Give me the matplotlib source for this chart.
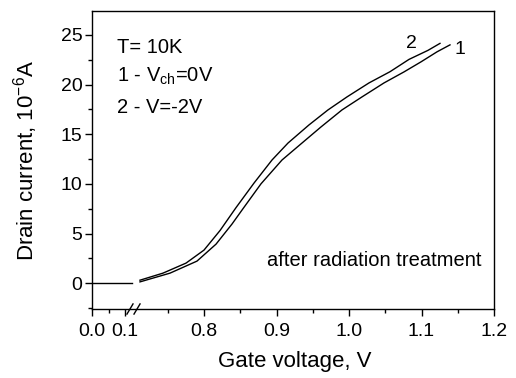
import matplotlib
matplotlib.use("Agg")
import matplotlib.pyplot as plt
import numpy as np
from matplotlib.ticker import FixedLocator, FormatStrFormatter

plt.rcParams['font.family'] = ['Liberation Sans', 'DejaVu Sans']
plt.rcParams['mathtext.default'] = 'regular'

# Broken x axis: 0..0.12 drawn wide, 0.12..0.71 squeezed, 0.71..1.2 normal
x_break_pts = [0.0, 0.12, 0.71, 1.2]
u_break_pts = [0.0, 39.6, 46.75, 402.0]

def fwd(x):
    return np.interp(x, x_break_pts, u_break_pts)

def inv(u):
    return np.interp(u, u_break_pts, x_break_pts)

# Data (gate voltage in V, drain current in 1e-6 A)
v_off = [0.0, 0.12]
i_off = [0.0, 0.0]

v_1 = [0.7117, 0.7531, 0.7903, 0.8166, 0.8386, 0.8538, 0.8786, 0.9076, 0.9352,
       0.9614, 0.9903, 1.0179, 1.0483, 1.0759, 1.0993, 1.1214, 1.1393]
i_1 = [0.13, 1.01, 2.22, 3.93, 5.95, 7.50, 10.00, 12.40, 14.11,
       15.73, 17.44, 18.75, 20.16, 21.27, 22.28, 23.29, 23.99]

v_2 = [0.7117, 0.7434, 0.7752, 0.8000, 0.8221, 0.8441, 0.8690, 0.8938, 0.9159,
       0.9448, 0.9710, 0.9972, 1.0276, 1.0566, 1.0828, 1.1090, 1.1255]
i_2 = [0.30, 1.01, 2.02, 3.33, 5.30, 7.60, 10.08, 12.40, 14.11,
       15.93, 17.44, 18.75, 20.16, 21.29, 22.53, 23.44, 24.14]

major_x = [0.0, 0.1, 0.8, 0.9, 1.0, 1.1, 1.2]
minor_x = [0.05, 0.75, 0.85, 0.95, 1.05, 1.15]

fig = plt.figure(figsize=(5.16, 3.78), dpi=100)
ax = fig.add_axes([92/516, 1 - 309/378, 402/516, 298/378])
ax.set_xscale('function', functions=(fwd, inv))

ax.plot(v_off, i_off, color='black', lw=1.0)
ax.plot(v_1, i_1, color='black', lw=1.0)
ax.plot(v_2, i_2, color='black', lw=1.0)

ax.set_xlim(0.0, 1.2)
ax.set_ylim(-2.6, 27.4)

ax.xaxis.set_major_locator(FixedLocator(major_x))
ax.xaxis.set_minor_locator(FixedLocator(minor_x))
ax.xaxis.set_major_formatter(FormatStrFormatter('%.1f'))
ax.set_yticks([0, 5, 10, 15, 20, 25])
ax.set_yticks(np.arange(-2.5, 27.5, 5), minor=True)

ax.tick_params(which='major', direction='out', length=5, width=1.0, labelsize=14)
ax.tick_params(which='minor', direction='out', length=3, width=1.0)
ax.tick_params(axis='x', pad=5)
ax.tick_params(axis='y', pad=2)
for s in ax.spines.values():
    s.set_linewidth(1.0)

ax.set_xlabel('Gate voltage, V', fontsize=16)
ax.set_ylabel('Drain current, 10$^{-6}$A', fontsize=16)
ax.xaxis.set_label_coords(0.505, -0.14)
ax.yaxis.set_label_coords(-0.13, 0.5)

# break marks on the bottom axis
for xb in [0.0945, 0.112]:
    ax.plot([xb - 0.0075, xb + 0.0075], [-0.017, 0.017], color='black', lw=1.0,
            transform=ax.transAxes, clip_on=False)

ax.text(0.062, 0.859, 'T= 10K', transform=ax.transAxes, fontsize=14.5, va='baseline')
ax.text(0.062, 0.762, '1 - V$_{ch}$=0V', transform=ax.transAxes, fontsize=14.5, va='baseline')
ax.text(0.062, 0.658, '2 - V=-2V', transform=ax.transAxes, fontsize=14.5, va='baseline')
ax.text(0.435, 0.144, 'after radiation treatment', transform=ax.transAxes,
        fontsize=14.5, va='baseline')

ax.text(1.153, 23.5, '1', fontsize=14, ha='center', va='center')
ax.text(1.0855, 24.1, '2', fontsize=14, ha='center', va='center')

fig.savefig('out.png', dpi=100)
